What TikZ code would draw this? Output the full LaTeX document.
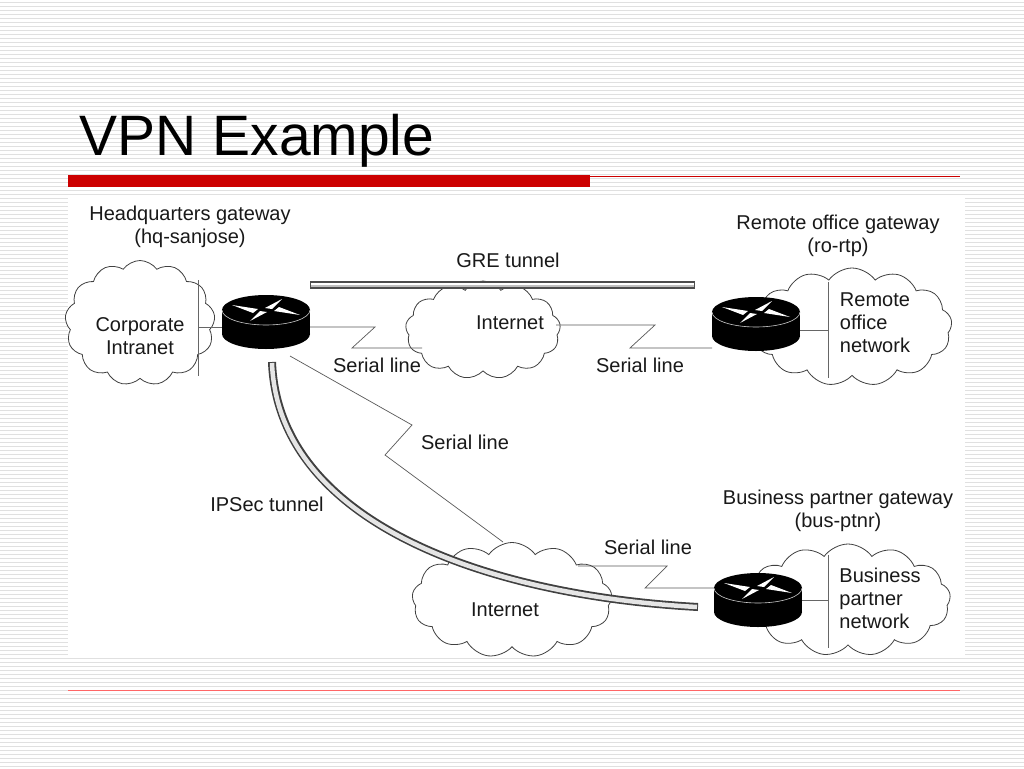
\documentclass[tikz,border=0pt]{standalone}
\usepackage{fontspec}
\setmainfont{Liberation Sans}
\usetikzlibrary{shapes.symbols}
\begin{document}
\begin{tikzpicture}[x=1pt,y=-1pt,
  cl/.style={cloud,cloud puffs=13,cloud puff arc=110,draw=black!75,line width=0.8pt,fill=white,inner sep=0pt},
  lbl/.style={font=\fontsize{20}{23}\selectfont,text=black!90,align=center},
  ser/.style={draw=black!65,line width=0.7pt},
  vl/.style={draw=black!60,line width=1pt},
  router/.pic={
    \fill[black] (-44,0) rectangle (44,24);
    \fill[black] (0,24) ellipse[x radius=44,y radius=15];
    \fill[black] (0,0) ellipse[x radius=44,y radius=15];
    \draw[white!80!black,line width=0.6pt] (-44,0) arc[start angle=180,end angle=0,x radius=44,y radius=15];
    \fill[white] (-34,-5) -- (-8,-1) -- (-13,3) -- cycle;
    \fill[white] (34,5) -- (8,1) -- (13,-3) -- cycle;
    \fill[white] (16,-11) -- (-1,-2) -- (6,-1) -- cycle;
    \fill[white] (-16,11) -- (1,2) -- (-6,1) -- cycle;
  }]
\useasboundingbox (0,0) rectangle (1024,768);
\fill[white] (0,0) rectangle (1024,768);
\foreach \y in {2,6,...,766} \draw[black!12,line width=0.8pt] (0,\y) -- (1024,\y);
\fill[white] (68,198) rectangle (965,658);
\node[anchor=base west,font=\fontsize{57}{62}\selectfont] (title) at (76,155) {VPN Example};
\fill[red!80!black] (68,175) rectangle (590,187);
\draw[red!80!black,line width=0.8pt] (590,176) -- (960,176);
\draw[red!60,line width=0.8pt] (68,690) -- (960,690);

% clouds
\node[cl,minimum width=150pt,minimum height=125pt] (c1) at (140,323) {};
\node[cl,minimum width=155pt,minimum height=98pt] (c2) at (483,330) {};
\node[cl,minimum width=200pt,minimum height=118pt] (c3) at (852,327) {};
\node[cl,minimum width=200pt,minimum height=115pt] (c4) at (512,600) {};
\node[cl,minimum width=205pt,minimum height=112pt] (c5) at (848,600) {};

\node[lbl,align=center] (t1) at (140,336) {Corporate\\Intranet};
\node[lbl] (t2) at (510,323) {Internet};
\node[lbl,align=left] (t3) at (875,323) {Remote\\office\\network};
\node[lbl] (t4) at (505,610) {Internet};
\node[lbl,align=left] (t5) at (880,598) {Business\\partner\\network};

% vertical LAN lines
\coordinate (v1a) at (198,280); \coordinate (v1b) at (198,376);
\coordinate (v3a) at (828,282); \coordinate (v3b) at (828,378);
\coordinate (v5a) at (828,555); \coordinate (v5b) at (828,648);
\draw[vl] (v1a) -- (v1b); \draw[vl] (v3a) -- (v3b); \draw[vl] (v5a) -- (v5b);

% routers
\coordinate (r1) at (266,310);
\coordinate (r2) at (756,312);
\coordinate (r3) at (758,588);
\draw[vl] (198,327) -- (225,327);
\draw[vl] (800,330) -- (828,330);
\draw[vl] (800,600) -- (828,600);

% serial lines
\coordinate (s1a) at (375,327); \coordinate (s1b) at (352,348);
\draw[ser] (310,327) -- (s1a) -- (s1b) -- (422,348);
\coordinate (s2a) at (655,325); \coordinate (s2b) at (630,348);
\draw[ser] (556,325) -- (s2a) -- (s2b) -- (712,348);
\coordinate (s3a) at (412,425); \coordinate (s3b) at (385,455);
\draw[ser] (290,356) -- (s3a) -- (s3b) -- (503,542);
\coordinate (s4a) at (667,566); \coordinate (s4b) at (645,588);
\draw[ser] (578,566) -- (s4a) -- (s4b) -- (714,588);

% GRE tunnel
\draw[black!70,line width=8pt] (310,285) -- (695,285);
\draw[black!25,line width=4pt] (311,285) -- (694,285);
\draw[white,line width=1.2pt] (311,284) -- (694,284);

% IPSec tunnel
\draw[black!75,line width=8pt] (272,362) .. controls (278,520) and (480,595) .. (698,607);
\draw[black!10,line width=4.5pt] (272,363) .. controls (278,520) and (480,595) .. (697,607);

\pic at (r1) {router};
\pic at (r2) {router};
\pic at (r3) {router};

% labels
\node[lbl] (l1) at (190,227) {Headquarters gateway\\(hq-sanjose)};
\node[lbl] (l2) at (838,236) {Remote office gateway\\(ro-rtp)};
\node[lbl] (l3) at (838,511) {Business partner gateway\\(bus-ptnr)};
\node[lbl] (gre) at (508,260) {GRE tunnel};
\node[lbl] (sl1) at (377,365) {Serial line};
\node[lbl] (sl2) at (640,365) {Serial line};
\node[lbl] (sl3) at (465,442) {Serial line};
\node[lbl] (sl4) at (648,547) {Serial line};
\node[lbl] (ips) at (267,504) {IPSec tunnel};
\end{tikzpicture}
\end{document}
